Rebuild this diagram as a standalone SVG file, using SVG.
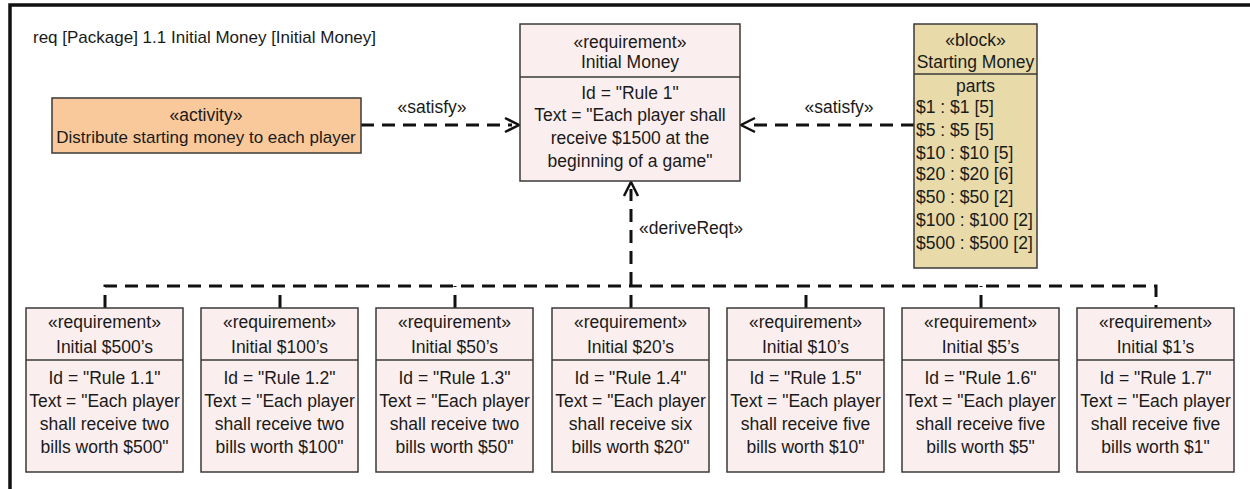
<svg xmlns="http://www.w3.org/2000/svg" width="1250" height="489" viewBox="0 0 1250 489">
  <style>
    text { font-family: "Liberation Sans", Arial, sans-serif; font-size: 17.5px; fill: #1a1a1a; }
    .t { font-size: 17px; }
    .c { text-anchor: middle; }
    .box { stroke: #3a3a3a; stroke-width: 1.5; }
    .req { fill: #fbeeee; }
    .act { fill: #f9c99b; }
    .blk { fill: #e8dba9; }
    .div { stroke: #3a3a3a; stroke-width: 1.3; fill: none; }
    .dash { stroke: #111; stroke-width: 3; stroke-dasharray: 13 8; fill: none; }
    .head { stroke: #111; stroke-width: 2.5; fill: none; }
  </style>

  <rect x="0" y="0" width="1250" height="489" fill="#ffffff"/>

  <!-- diagram frame -->
  <g id="frame">
    <path d="M10 489 V5 H1250" fill="none" stroke="#111" stroke-width="3.5"/>
    <text x="33" y="43" class="t">req [Package] 1.1 Initial Money [Initial Money]</text>
  </g>

  <!-- connectors -->
  <g id="connectors">
    <!-- activity satisfies Initial Money -->
    <path class="dash" d="M361 125 H512"/>
    <path class="head" d="M505 118 L519 125 L505 132"/>
    <text x="432" y="113" class="c">«satisfy»</text>

    <!-- block satisfies Initial Money -->
    <path class="dash" d="M914 125 H748"/>
    <path class="head" d="M755 118 L741 125 L755 132"/>
    <text x="839" y="113" class="c">«satisfy»</text>

    <!-- derived requirements bus -->
    <path class="dash" d="M631 285 V189"/>
    <path class="head" d="M624 196 L631 182 L638 196"/>
    <text x="639" y="234">«deriveReqt»</text>
    <path class="dash" d="M105 308 V286 H1156 V308"/>
    <path class="dash" d="M280 308 V286"/>
    <path class="dash" d="M455 308 V286"/>
    <path class="dash" d="M631 308 V286"/>
    <path class="dash" d="M806 308 V286"/>
    <path class="dash" d="M981 308 V286"/>
  </g>

  <!-- activity -->
  <g id="activity-distribute">
    <rect class="box act" x="52" y="98" width="309" height="55"/>
    <text x="206" y="121" class="c">«activity»</text>
    <text x="206" y="143" class="c t">Distribute starting money to each player</text>
  </g>

  <!-- top requirement -->
  <g id="req-initial-money">
    <rect class="box req" x="520" y="24" width="220" height="157"/>
    <line class="div" x1="520" y1="77" x2="740" y2="77"/>
    <text x="630" y="48" class="c">«requirement»</text>
    <text x="630" y="68" class="c">Initial Money</text>
    <text x="630" y="99" class="c">Id = "Rule 1"</text>
    <text x="630" y="121" class="c">Text = "Each player shall</text>
    <text x="630" y="144" class="c">receive $1500 at the</text>
    <text x="630" y="167" class="c">beginning of a game"</text>
  </g>

  <!-- block -->
  <g id="block-starting-money">
    <rect class="box blk" x="914" y="24" width="123" height="244"/>
    <line class="div" x1="914" y1="74" x2="1037" y2="74"/>
    <text x="975.5" y="46" class="c">«block»</text>
    <text x="975.5" y="68" class="c">Starting Money</text>
    <text x="975.5" y="92" class="c">parts</text>
    <text x="916" y="113">$1 : $1 [5]</text>
    <text x="916" y="136">$5 : $5 [5]</text>
    <text x="916" y="159">$10 : $10 [5]</text>
    <text x="916" y="180">$20 : $20 [6]</text>
    <text x="916" y="203">$50 : $50 [2]</text>
    <text x="916" y="226">$100 : $100 [2]</text>
    <text x="916" y="249">$500 : $500 [2]</text>
  </g>

  <!-- derived requirements -->
  <g id="req-500">
    <rect class="box req" x="26" y="308" width="157" height="164"/>
    <line class="div" x1="26" y1="360" x2="183" y2="360"/>
    <text x="104.5" y="328" class="c">«requirement»</text>
    <text x="104.5" y="353" class="c">Initial $500’s</text>
    <text x="104.5" y="384" class="c">Id = "Rule 1.1"</text>
    <text x="104.5" y="407" class="c">Text = "Each player</text>
    <text x="104.5" y="430" class="c">shall receive two</text>
    <text x="104.5" y="453" class="c">bills worth $500"</text>
  </g>
  <g id="req-100">
    <rect class="box req" x="201" y="308" width="157" height="164"/>
    <line class="div" x1="201" y1="360" x2="358" y2="360"/>
    <text x="279.5" y="328" class="c">«requirement»</text>
    <text x="279.5" y="353" class="c">Initial $100’s</text>
    <text x="279.5" y="384" class="c">Id = "Rule 1.2"</text>
    <text x="279.5" y="407" class="c">Text = "Each player</text>
    <text x="279.5" y="430" class="c">shall receive two</text>
    <text x="279.5" y="453" class="c">bills worth $100"</text>
  </g>
  <g id="req-50">
    <rect class="box req" x="376" y="308" width="157" height="164"/>
    <line class="div" x1="376" y1="360" x2="533" y2="360"/>
    <text x="454.5" y="328" class="c">«requirement»</text>
    <text x="454.5" y="353" class="c">Initial $50’s</text>
    <text x="454.5" y="384" class="c">Id = "Rule 1.3"</text>
    <text x="454.5" y="407" class="c">Text = "Each player</text>
    <text x="454.5" y="430" class="c">shall receive two</text>
    <text x="454.5" y="453" class="c">bills worth $50"</text>
  </g>
  <g id="req-20">
    <rect class="box req" x="552" y="308" width="157" height="164"/>
    <line class="div" x1="552" y1="360" x2="709" y2="360"/>
    <text x="630.5" y="328" class="c">«requirement»</text>
    <text x="630.5" y="353" class="c">Initial $20’s</text>
    <text x="630.5" y="384" class="c">Id = "Rule 1.4"</text>
    <text x="630.5" y="407" class="c">Text = "Each player</text>
    <text x="630.5" y="430" class="c">shall receive six</text>
    <text x="630.5" y="453" class="c">bills worth $20"</text>
  </g>
  <g id="req-10">
    <rect class="box req" x="727" y="308" width="157" height="164"/>
    <line class="div" x1="727" y1="360" x2="884" y2="360"/>
    <text x="805.5" y="328" class="c">«requirement»</text>
    <text x="805.5" y="353" class="c">Initial $10’s</text>
    <text x="805.5" y="384" class="c">Id = "Rule 1.5"</text>
    <text x="805.5" y="407" class="c">Text = "Each player</text>
    <text x="805.5" y="430" class="c">shall receive five</text>
    <text x="805.5" y="453" class="c">bills worth $10"</text>
  </g>
  <g id="req-5">
    <rect class="box req" x="902" y="308" width="157" height="164"/>
    <line class="div" x1="902" y1="360" x2="1059" y2="360"/>
    <text x="980.5" y="328" class="c">«requirement»</text>
    <text x="980.5" y="353" class="c">Initial $5’s</text>
    <text x="980.5" y="384" class="c">Id = "Rule 1.6"</text>
    <text x="980.5" y="407" class="c">Text = "Each player</text>
    <text x="980.5" y="430" class="c">shall receive five</text>
    <text x="980.5" y="453" class="c">bills worth $5"</text>
  </g>
  <g id="req-1">
    <rect class="box req" x="1077" y="308" width="157" height="164"/>
    <line class="div" x1="1077" y1="360" x2="1234" y2="360"/>
    <text x="1155.5" y="328" class="c">«requirement»</text>
    <text x="1155.5" y="353" class="c">Initial $1’s</text>
    <text x="1155.5" y="384" class="c">Id = "Rule 1.7"</text>
    <text x="1155.5" y="407" class="c">Text = "Each player</text>
    <text x="1155.5" y="430" class="c">shall receive five</text>
    <text x="1155.5" y="453" class="c">bills worth $1"</text>
  </g>
</svg>
